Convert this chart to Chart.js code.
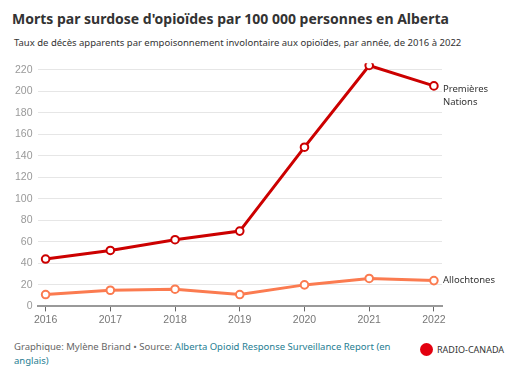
<!DOCTYPE html>
<html>
<head>
<meta charset="utf-8">
<script src="https://cdn.jsdelivr.net/npm/chart.js@4.4.0/dist/chart.umd.min.js"></script>
<style>
  body { margin: 0; width: 517px; height: 382px; background: #fff; font-family: "Noto Sans", sans-serif; position: relative; overflow: hidden; }
  #title { position: absolute; left: 12px; top: 9px; font-size: 14px; font-weight: bold; color: #333; }
  #sub { position: absolute; left: 14px; top: 36px; font-size: 9.5px; color: #333; }
  #wrap { position: absolute; left: 0; top: 52px; width: 517px; height: 276px; }
  #foot { position: absolute; left: 14px; top: 340px; width: 390px; font-size: 9.5px; color: #666; line-height: 14px; }
  #foot a { color: #257d92; text-decoration: none; }
  #logo { position: absolute; left: 420px; top: 343px; font-size: 9px; color: #333; }
  #logo span { display: inline-block; width: 13px; height: 13px; background: #e3000f; border-radius: 50%; vertical-align: -3px; margin-right: 4px; }
</style>
</head>
<body>
<div id="title">Morts par surdose d'opioïdes par 100 000 personnes en Alberta</div>
<div id="sub">Taux de décès apparents par empoisonnement involontaire aux opioïdes, par année, de 2016 à 2022</div>
<div id="wrap"><canvas id="myChart"></canvas></div>
<div id="foot">Graphique: Mylène Briand • Source: <a>Alberta Opioid Response Surveillance Report (en anglais)</a></div>
<div id="logo"><span></span>RADIO-CANADA</div>
<script>
const years = [2016, 2017, 2018, 2019, 2020, 2021, 2022];
const firstNations = [44, 52, 62, 70, 148, 224, 205];
const nonIndigenous = [11, 15, 16, 11, 20, 26, 24];
const yTicks = [0, 20, 40, 60, 80, 100, 120, 140, 160, 180, 200, 220];
const seriesNames = ['Premières\nNations', 'Allochtones'];

const endLabels = {
    id: 'endLabels',
    afterDatasetsDraw(chart) {
        const ctx = chart.ctx;
        ctx.save();
        ctx.font = '9.5px "Noto Sans", sans-serif';
        ctx.fillStyle = '#333';
        ctx.textBaseline = 'middle';
        chart.data.datasets.forEach((ds, i) => {
            const meta = chart.getDatasetMeta(i);
            const pt = meta.data[meta.data.length - 1];
            const lines = seriesNames[i].split('\n');
            const y0 = pt.y + (lines.length > 1 ? 3 : 0);
            lines.forEach((l, j) => ctx.fillText(l, pt.x + 9, y0 + j * 13));
        });
        ctx.restore();
    }
};

const ctx = document.getElementById('myChart').getContext('2d');
const myChart = new Chart(ctx, {
    type: 'line',
    data: {
        datasets: [{
            data: years.map((y, i) => ({x: y, y: firstNations[i]})),
            borderColor: '#cc0000',
            borderWidth: 3,
            pointBackgroundColor: '#fff',
            pointBorderColor: '#cc0000',
            pointBorderWidth: 2,
            pointRadius: 3.8
        }, {
            data: years.map((y, i) => ({x: y, y: nonIndigenous[i]})),
            borderColor: '#fb7b50',
            borderWidth: 3,
            pointBackgroundColor: '#fff',
            pointBorderColor: '#fb7b50',
            pointBorderWidth: 2,
            pointRadius: 3.8
        }]
    },
    options: {
        responsive: true,
        maintainAspectRatio: false,
        animation: false,
        layout: { padding: { left: 10, right: 75, top: 8, bottom: 0 } },
        plugins: { legend: { display: false }, tooltip: { enabled: false } },
        scales: {
            x: {
                type: 'linear',
                min: 2015.875,
                max: 2022.125,
                afterBuildTicks: axis => { axis.ticks = years.map(v => ({value: v})); },
                grid: { display: true, drawOnChartArea: false, drawTicks: true, tickLength: 5, color: '#666' },
                border: { color: '#999', width: 2 },
                ticks: { color: '#777', font: { size: 10.5 }, padding: 2, callback: v => String(v) }
            },
            y: {
                min: 0,
                max: 226,
                afterBuildTicks: axis => { axis.ticks = yTicks.map(v => ({value: v})); },
                grid: { color: '#e6e6e6', drawTicks: false },
                border: { display: false },
                ticks: { color: '#999', font: { size: 10.5 }, padding: 5 }
            }
        }
    },
    plugins: [endLabels]
});
</script>
</body>
</html>
